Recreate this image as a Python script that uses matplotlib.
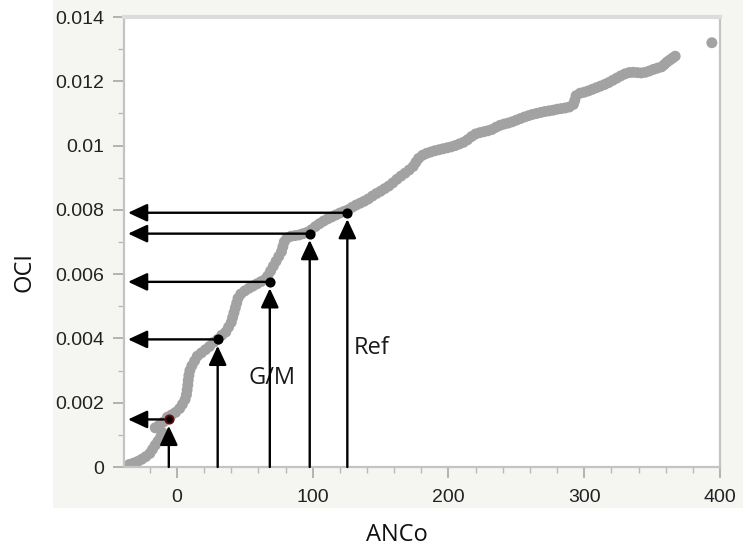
import matplotlib
matplotlib.use("Agg")
import matplotlib.pyplot as plt
from matplotlib.patches import Rectangle
from matplotlib.ticker import MultipleLocator

# --- DATA ---
anco = [-35, -32, -29, -26, -23, -20, -18, -16, -14, -12, -11, -16, -13, -10, -7,
        -4, -1, 2, 4, 6, 7, 7.5, 8, 8.3, 8.8, 9.5, 11, 13, 15, 18, 21, 24, 27, 30,
        33, 36, 38, 40, 41, 42, 43, 44, 45, 47, 50, 53, 56, 59, 62, 65, 67, 69, 71,
        73, 75, 77, 78, 79, 81, 84, 87, 90, 93, 96, 99, 102, 105, 108, 111, 114, 117,
        120, 123, 126, 129, 132, 135, 138, 141, 144, 147, 150, 153, 156, 159, 162,
        165, 168, 171, 174, 176, 178, 181, 184, 187, 190, 193, 196, 199, 202, 205,
        208, 211, 214, 217, 220, 223, 226, 229, 232, 235, 238, 241, 244, 247, 250,
        253, 256, 259, 262, 265, 268, 271, 274, 277, 280, 283, 286, 289, 292, 293,
        294, 297, 300, 303, 306, 309, 312, 315, 318, 321, 324, 327, 330, 333, 336,
        339, 342, 345, 348, 351, 354, 357, 359, 361, 363, 365, 367, 394]
oci = [0.00008, 0.00012, 0.00017, 0.00024, 0.00032, 0.00042, 0.00055, 0.00068,
       0.00080, 0.00093, 0.00108, 0.00122, 0.00130, 0.00140, 0.00155,
       0.00162, 0.00170, 0.00182, 0.00195, 0.0021, 0.00225, 0.0024, 0.00255, 0.0027,
       0.00285, 0.0030, 0.00315, 0.0033, 0.00345, 0.00355, 0.00365, 0.00375, 0.00388,
       0.00397, 0.0041, 0.0042, 0.00435, 0.0045, 0.00465, 0.0048, 0.00495, 0.0051,
       0.00525, 0.00538, 0.00548, 0.00556, 0.00563, 0.0057, 0.00577, 0.00584, 0.00595,
       0.0061, 0.00625, 0.0064, 0.00655, 0.0067, 0.00685, 0.0070, 0.00712, 0.00718,
       0.0072, 0.00722, 0.00726, 0.0073, 0.00738, 0.00748, 0.00757, 0.00765, 0.00772,
       0.00778, 0.00784, 0.0079, 0.00795, 0.0080, 0.00808, 0.00815, 0.00821, 0.00827,
       0.00834, 0.00843, 0.00851, 0.00858, 0.00866, 0.00874, 0.00884, 0.00895,
       0.00905, 0.00914, 0.00924, 0.00935, 0.00948, 0.0096, 0.0097, 0.00976, 0.0098,
       0.00984, 0.00987, 0.0099, 0.00993, 0.00996, 0.0100, 0.01005, 0.0101, 0.01018,
       0.01028, 0.01036, 0.0104, 0.01043, 0.01046, 0.0105, 0.01057, 0.01063, 0.01067,
       0.0107, 0.01074, 0.01079, 0.01084, 0.01089, 0.01093, 0.01097, 0.0110, 0.01103,
       0.01106, 0.01108, 0.0111, 0.01113, 0.01115, 0.01117, 0.0112, 0.01128, 0.0114,
       0.01155, 0.01163, 0.01166, 0.0117, 0.01175, 0.0118, 0.01185, 0.0119, 0.01196,
       0.01203, 0.0121, 0.01217, 0.01223, 0.01227, 0.01228, 0.01227, 0.01226, 0.01228,
       0.01232, 0.01237, 0.01241, 0.01245, 0.01252, 0.0126, 0.01266, 0.01272, 0.01278,
       0.0132]

# thresholds marked with arrows
mark_x = [-6, 30, 68.4, 97.8, 125.5]
mark_y = [0.00148, 0.00397, 0.00576, 0.00726, 0.00791]
dot_colors = ["#6a0a0a", "black", "black", "black", "black"]

x_ticks = [0, 100, 200, 300, 400]
y_ticks = [0, 0.002, 0.004, 0.006, 0.008, 0.01, 0.012, 0.014]
y_labels = ["0", "0.002", "0.004", "0.006", "0.008", "0.01", "0.012", "0.014"]

# --- FIGURE ---
fig = plt.figure(figsize=(7.43, 5.49), dpi=100, facecolor="white")
fig.patches.append(Rectangle((53 / 743, 41 / 549), 1 - 53 / 743, 1 - 41 / 549,
                             transform=fig.transFigure, facecolor="#f5f5f1",
                             edgecolor="none", zorder=-10))

ax = fig.add_axes([124 / 743, 82 / 549, 596 / 743, 450 / 549])
ax.set_facecolor("white")
ax.set_xlim(-39, 400)
ax.set_ylim(0, 0.014)

ax.scatter(anco, oci, s=62, color="#a2a2a2", edgecolors="none", zorder=2)

arrow_kw = dict(arrowstyle="-|>,head_length=0.9,head_width=0.42", color="black",
                lw=1.7, mutation_scale=13, shrinkA=0, shrinkB=0)
for mx, my, c in zip(mark_x, mark_y, dot_colors):
    # horizontal arrow to the OCI axis
    ax.annotate("", xy=(-36, my), xytext=(mx, my), arrowprops=arrow_kw, zorder=4)
    # vertical arrow from the ANCo axis up to the point
    ax.annotate("", xy=(mx, my - 0.0002), xytext=(mx, 0), arrowprops=arrow_kw, zorder=4)
    ax.scatter([mx], [my], s=36, color="black", edgecolors=c, linewidths=1.3, zorder=5)

ax.text(70.2, 0.00276, "G/M", fontsize=17, family="Open Sans", color="#1a1a1a",
        ha="center", va="center", zorder=3)
ax.text(143.4, 0.00369, "Ref", fontsize=17, family="Open Sans", color="#1a1a1a",
        ha="center", va="center", zorder=3)

# --- AXES STYLE ---
ax.set_xticks(x_ticks)
ax.set_yticks(y_ticks)
ax.set_yticklabels(y_labels)
ax.xaxis.set_minor_locator(MultipleLocator(20))
ax.yaxis.set_minor_locator(MultipleLocator(0.001))
ax.tick_params(which="major", direction="out", color="#a8a8a8", length=8, width=1.2,
               labelsize=14, labelcolor="#222222", pad=6)
ax.tick_params(which="minor", direction="out", color="#b8b8b8", length=4, width=1.0)
ax.tick_params(axis="x", which="major", pad=8)
for lab in ax.get_xticklabels() + ax.get_yticklabels():
    lab.set_family("Liberation Sans")
for sp in ax.spines.values():
    sp.set_color("#c4c4c4")
    sp.set_linewidth(1.6)
ax.spines["top"].set_linewidth(3)
ax.spines["top"].set_color("#dcdcdc")

fig.text(25 / 743, 1 - 272 / 549, "OCI", rotation=90, fontsize=17, family="Open Sans",
         color="#111111", ha="center", va="center")
fig.text(397 / 743, 1 - 535 / 549, "ANCo", fontsize=17, family="Open Sans",
         color="#111111", ha="center", va="center")

fig.savefig("out.png", dpi=100, facecolor=fig.get_facecolor())
